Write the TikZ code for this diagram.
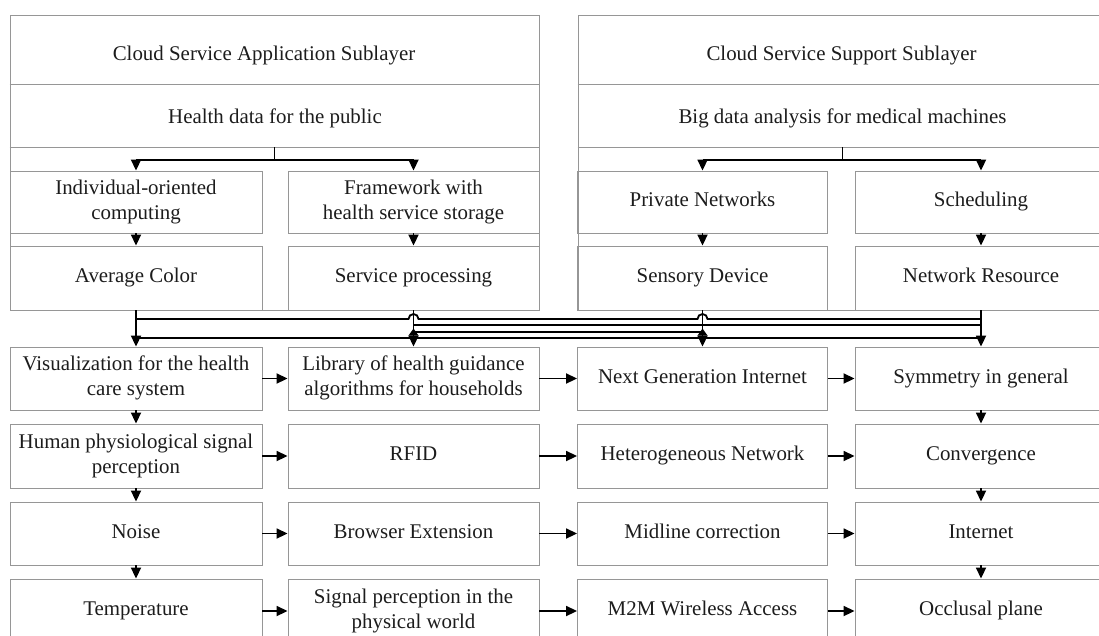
\documentclass[tikz,border=0pt]{standalone}
\usepackage{fontspec}
\setmainfont{Liberation Serif}
\usetikzlibrary{arrows.meta,calc}
\definecolor{edge}{RGB}{150,150,150}
\definecolor{ink}{RGB}{28,28,28}
% fixed first-line height and last-line depth, so every cell sets its text alike
\newcommand\cellstrut{\rule[-5pt]{0pt}{19pt}}
\tikzset{
  txt/.style={inner sep=0pt, align=center, text=ink, font=\fontsize{20.9}{25}\selectfont},
  cell/.style={txt, draw=edge, line width=0.9pt, rectangle,
    execute at begin node=\cellstrut, execute at end node=\cellstrut},
  frame/.style={draw=edge, line width=0.9pt, rectangle, inner sep=0pt},
  rule/.style={draw=edge, line width=0.9pt},
  wire/.style={draw=black, line width=1.8pt},
  conn/.style={wire, -{Triangle[length=11pt,width=10pt]}},
  colA/.style={minimum width=252pt},
  colB/.style={minimum width=251pt},
  colC/.style={minimum width=250pt},
  colD/.style={minimum width=252pt},
}
\begin{document}
\begin{tikzpicture}[x=1pt,y=-1pt]
\useasboundingbox (0,0) rectangle (1099,635);

% ---- application sublayer panel ----
\node[frame, minimum width=529pt, minimum height=295pt] (lpanel) at (274.5,162.5) {};
\draw[rule] (lpanel.west |- 0,84) -- (lpanel.east |- 0,84);
\draw[rule] (lpanel.west |- 0,147) -- (lpanel.east |- 0,147);
\node[txt] (ltitle) at (264,56) {Cloud Service Application Sublayer};
\node[txt] (lhealth) at (275,118) {Health data for the public};
\node[cell, colA, minimum height=62pt] (ind) at (136,202) {Individual-oriented\\computing};
\node[cell, colB, minimum height=62pt] (fw) at (413.5,202) {Framework with\\health service storage};
\node[cell, colA, minimum height=64pt] (avg) at (136,278) {Average Color};
\node[cell, colB, minimum height=64pt] (svc) at (413.5,278) {Service processing};

% ---- support sublayer panel ----
\node[frame, minimum width=529pt, minimum height=295pt] (rpanel) at (842.5,162.5) {};
\draw[rule] (rpanel.west |- 0,84) -- (rpanel.east |- 0,84);
\draw[rule] (rpanel.west |- 0,147) -- (rpanel.east |- 0,147);
\node[txt] (rtitle) at (841.5,56) {Cloud Service Support Sublayer};
\node[txt] (rhealth) at (842.5,118) {Big data analysis for medical machines};
\node[cell, colC, minimum height=62pt] (prv) at (702.5,202) {Private Networks};
\node[cell, colD, minimum height=62pt] (sch) at (981,202) {Scheduling};
\node[cell, colC, minimum height=64pt] (sen) at (702.5,278) {Sensory Device};
\node[cell, colD, minimum height=64pt] (nres) at (981,278) {Network Resource};

% ---- branching inside the panels ----
\coordinate (lsplit) at (274.5,147);
\coordinate (rsplit) at (842.5,147);
\draw[conn] (lsplit) -- ++(0,13) -| (ind.north);
\draw[conn] (lsplit) -- ++(0,13) -| (fw.north);
\draw[conn] (rsplit) -- ++(0,13) -| (prv.north);
\draw[conn] (rsplit) -- ++(0,13) -| (sch.north);
\draw[conn] (ind.south) -- (avg.north);
\draw[conn] (fw.south) -- (svc.north);
\draw[conn] (prv.south) -- (sen.north);
\draw[conn] (sch.south) -- (nres.north);

% ---- lower grid ----
\node[cell, colA, minimum height=63pt] (vis) at (136,378.5) {Visualization for the health\\care system};
\node[cell, colB, minimum height=63pt] (lib) at (413.5,378.5) {Library of health guidance\\algorithms for households};
\node[cell, colC, minimum height=63pt] (ngi) at (702.5,378.5) {Next Generation Internet};
\node[cell, colD, minimum height=63pt] (sym) at (981,378.5) {Symmetry in general};

\node[cell, colA, minimum height=64pt] (hum) at (136,456) {Human physiological signal\\perception};
\node[cell, colB, minimum height=64pt] (rfid) at (413.5,456) {RFID};
\node[cell, colC, minimum height=64pt] (het) at (702.5,456) {Heterogeneous Network};
\node[cell, colD, minimum height=64pt] (conv) at (981,456) {Convergence};

\node[cell, colA, minimum height=63pt] (noise) at (136,533.5) {Noise};
\node[cell, colB, minimum height=63pt] (brow) at (413.5,533.5) {Browser Extension};
\node[cell, colC, minimum height=63pt] (mid) at (702.5,533.5) {Midline correction};
\node[cell, colD, minimum height=63pt] (inet) at (981,533.5) {Internet};

\node[cell, colA, minimum height=64pt] (temp) at (136,611) {Temperature};
\node[cell, colB, minimum height=64pt] (sig) at (413.5,611) {Signal perception in the\\physical world};
\node[cell, colC, minimum height=64pt] (m2m) at (702.5,611) {M2M Wireless Access};
\node[cell, colD, minimum height=64pt] (occ) at (981,611) {Occlusal plane};

% rows: left to right
\foreach \a/\b in {vis/lib,lib/ngi,ngi/sym,hum/rfid,rfid/het,het/conv,noise/brow,brow/mid,mid/inet,temp/sig,sig/m2m,m2m/occ}
  \draw[conn] (\a.east) -- (\b.west);
% first and last columns: top to bottom
\foreach \a/\b in {vis/hum,hum/noise,noise/temp,sym/conv,conv/inet,inet/occ}
  \draw[conn] (\a.south) -- (\b.north);

% ---- bus between the panels and the grid ----
\coordinate (b1) at (0,319);
\coordinate (b2) at (0,325);
\coordinate (b3) at (0,332);
\coordinate (b4) at (0,338);
\draw[wire] (avg.south |- b1) -- ($(svc.south |- b1)+(-5,0)$)
  arc[start angle=180,end angle=0,radius=5pt]
  -- ($(sen.south |- b1)+(-5,0)$)
  arc[start angle=180,end angle=0,radius=5pt]
  -- (nres.south |- b1);
\draw[wire] (svc.south |- b2) -- (nres.south |- b2);
\draw[wire] (svc.south |- b3) -- (sen.south |- b3);
\draw[wire] (avg.south |- b4) -- (nres.south |- b4);
\draw[conn] (avg.south) -- (vis.north);
\draw[conn] (svc.south) -- (lib.north);
\draw[conn] (sen.south) -- (ngi.north);
\draw[conn] (nres.south) -- (sym.north);
% joining marks above the middle arrowheads
\fill ($(lib.north)+(-5,-11)$) -- ($(lib.north)+(0,-18)$) -- ($(lib.north)+(5,-11)$) -- cycle;
\fill ($(ngi.north)+(-5,-11)$) -- ($(ngi.north)+(0,-18)$) -- ($(ngi.north)+(5,-11)$) -- cycle;
\end{tikzpicture}
\end{document}
